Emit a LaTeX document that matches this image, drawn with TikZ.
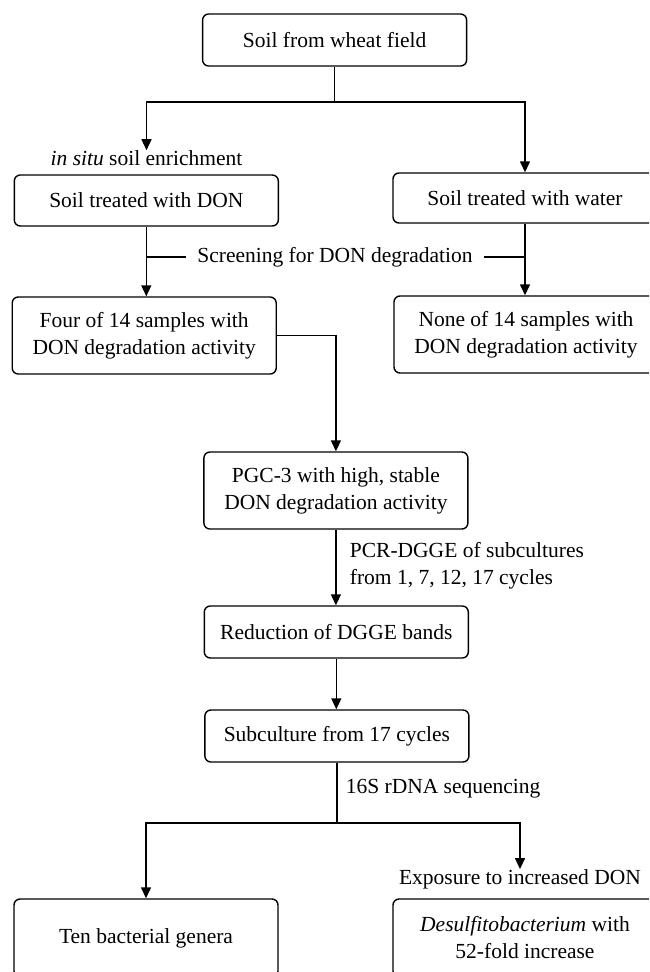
\documentclass[tikz,border=0pt]{standalone}
\usepackage{fontspec}
\setmainfont{Liberation Serif}
\usetikzlibrary{arrows.meta}
\begin{document}
\begin{tikzpicture}[x=1pt,y=-1pt,
 box/.style={draw, rounded corners=6pt, line width=1.4pt, minimum width=264pt, inner sep=0pt, align=center, font=\fontsize{21.5}{27}\selectfont},
 lbl/.style={inner sep=0pt, font=\fontsize{21.5}{27}\selectfont},
 arr/.style={line width=1.4pt, -{Triangle[length=11pt,width=10pt]}},
 ln/.style={line width=1.4pt}]
\useasboundingbox (0,0) rectangle (649,972);
\clip (0,0) rectangle (649,972);
\node[box, minimum height=52pt] (b1) at (334.6,40) {Soil from wheat field};
\node[box, minimum height=51pt] (don) at (146.3,200.5) {Soil treated with DON};
\node[box, minimum height=50pt] (water) at (525,198) {Soil treated with water};
\node[box, minimum height=77pt] (four) at (144.2,335.5) {Four of 14 samples with\\DON degradation activity};
\node[box, minimum height=77pt] (none) at (526,334.5) {None of 14 samples with\\DON degradation activity};
\node[box, minimum height=77pt] (pgc) at (335.9,490.5) {PGC-3 with high, stable\\DON degradation activity};
\node[box, minimum height=52pt] (red) at (336.3,632) {Reduction of DGGE bands};
\node[box, minimum height=52pt] (sub) at (336.9,736) {Subculture from 17 cycles};
\node[box, minimum height=78pt] (ten) at (146,938) {Ten bacterial genera};
\node[box, minimum height=78pt] (des) at (525,938) {\textit{Desulfitobacterium} with\\52-fold increase};
\node[lbl] (insitu) at (146.5,158) {\textit{in situ} soil enrichment};
\node[lbl, inner xsep=11pt] (scr) at (335,257) {Screening for DON degradation};
\node[lbl, anchor=west, align=left] (pcr) at (349.7,566) {PCR-DGGE of subcultures\\from 1, 7, 12, 17 cycles};
\node[lbl, anchor=west] (seq) at (345.6,789) {16S rDNA sequencing};
\node[lbl] (expo) at (520,879) {Exposure to increased DON};
\coordinate (j1) at (334.6,102);
\coordinate (j2) at (336.9,823);
\draw[ln] (b1.south) -- (j1);
\draw[arr] (j1) -| (insitu.north);
\draw[arr] (j1) -| (water.north);
\draw[arr] (don.south) -- (don.south |- four.north);
\draw[arr] (water.south) -- (water.south |- none.north);
\draw[ln] (scr.west) -- (don.south |- scr.west);
\draw[ln] (scr.east) -- (water.south |- scr.east);
\draw[arr] (four.east) -| (pgc.north);
\draw[arr] (pgc.south) -- (pgc.south |- red.north);
\draw[arr] (red.south) -- (red.south |- sub.north);
\draw[ln] (sub.south) -- (j2);
\draw[arr] (j2) -| (ten.north);
\draw[arr] (j2) -| (expo.north);
\end{tikzpicture}
\end{document}
